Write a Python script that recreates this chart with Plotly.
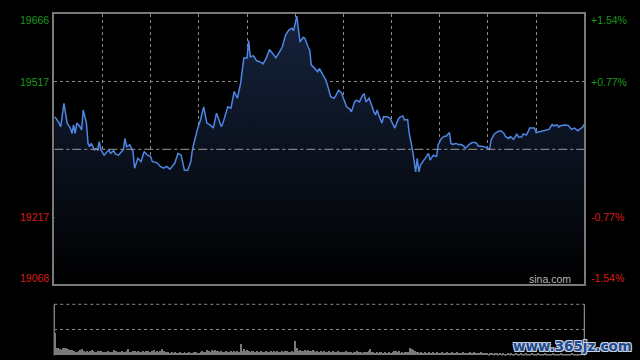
import plotly.graph_objects as go

# ---- data ----
minutes = [0, 1, 3, 4, 6, 8, 10, 11, 12, 13, 14, 16, 17, 18, 20, 21, 22, 23, 25, 26,
           27, 28, 29, 31, 33, 34, 35, 37, 38, 40, 41, 43, 44, 45, 47, 49, 50, 52, 54, 56,
           58, 60, 61, 64, 66, 68, 70, 72, 75, 77, 79, 81, 83, 85, 86, 89, 91, 93, 95, 97,
           99, 101, 104, 105, 108, 110, 112, 114, 116, 118, 120, 121, 122, 124, 126, 128, 130, 132, 134, 136,
           138, 140, 142, 144, 146, 148, 149, 151, 153, 155, 156, 158, 159, 160, 162, 164, 165, 167, 169, 171,
           172, 174, 175, 177, 179, 180, 182, 184, 185, 187, 188, 190, 192, 193, 194, 196, 197, 199, 200, 201,
           202, 204, 205, 207, 209, 210, 212, 214, 215, 217, 218, 220, 221, 223, 224, 225, 226, 227, 228, 230,
           232, 233, 234, 236, 238, 239, 241, 243, 244, 246, 247, 248, 250, 252, 253, 255, 256, 258, 260, 262,
           263, 264, 266, 268, 269, 271, 272, 274, 276, 278, 280, 281, 283, 284, 286, 287, 288, 289, 291, 292,
           294, 295, 296, 298, 299, 300, 302, 304, 307, 308, 310, 311, 313, 314, 315, 317, 318, 320, 321, 322,
           324, 326, 327, 329, 330]
index_values = [19439, 19436, 19425, 19417, 19469, 19425, 19414, 19402, 19421, 19402, 19425, 19417, 19410, 19454, 19425, 19380, 19373, 19380, 19366, 19369,
                19366, 19384, 19366, 19354, 19362, 19366, 19358, 19364, 19357, 19354, 19358, 19366, 19391, 19373, 19377, 19362, 19325, 19347, 19340, 19362,
                19354, 19351, 19340, 19337, 19329, 19325, 19329, 19323, 19336, 19358, 19354, 19321, 19320, 19340, 19366, 19410, 19432, 19461, 19425, 19421,
                19414, 19447, 19417, 19425, 19461, 19458, 19495, 19480, 19513, 19569, 19569, 19608, 19572, 19574, 19563, 19561, 19556, 19569, 19588, 19580,
                19570, 19581, 19594, 19620, 19631, 19635, 19630, 19662, 19605, 19615, 19613, 19594, 19587, 19554, 19546, 19539, 19546, 19532, 19521, 19498,
                19484, 19480, 19484, 19498, 19491, 19480, 19461, 19456, 19450, 19472, 19476, 19472, 19487, 19489, 19472, 19480, 19469, 19450, 19443, 19454,
                19443, 19425, 19439, 19439, 19436, 19428, 19414, 19432, 19438, 19441, 19432, 19433, 19402, 19366, 19343, 19317, 19347, 19317, 19332, 19343,
                19354, 19358, 19343, 19354, 19351, 19377, 19391, 19396, 19396, 19404, 19380, 19378, 19380, 19377, 19378, 19374, 19369, 19377, 19382, 19382,
                19380, 19374, 19374, 19373, 19371, 19367, 19388, 19401, 19406, 19408, 19402, 19395, 19391, 19395, 19389, 19395, 19401, 19394, 19394, 19401,
                19399, 19406, 19414, 19414, 19414, 19404, 19406, 19408, 19411, 19411, 19422, 19419, 19421, 19416, 19419, 19420, 19421, 19420, 19414, 19411,
                19414, 19408, 19411, 19416, 19423]

volume = [22, 7, 7, 6, 5, 7, 7, 7, 6, 5,
          5, 5, 4, 3, 3, 4, 5, 6, 4, 3,
          4, 3, 4, 5, 4, 3, 3, 4, 4, 4,
          3, 3, 3, 4, 3, 3, 3, 5, 4, 3,
          3, 3, 4, 3, 3, 4, 6, 3, 3, 4,
          4, 3, 4, 3, 3, 4, 3, 4, 4, 3,
          3, 4, 5, 3, 4, 3, 4, 6, 4, 3,
          3, 3, 2, 3, 2, 3, 2, 2, 3, 2,
          2, 3, 2, 2, 3, 2, 2, 3, 3, 2,
          2, 3, 4, 3, 3, 5, 4, 3, 5, 4,
          5, 4, 4, 3, 4, 3, 3, 4, 3, 3,
          4, 3, 4, 3, 4, 3, 11, 4, 6, 4,
          5, 4, 3, 4, 4, 3, 4, 3, 3, 4,
          3, 3, 4, 3, 3, 4, 3, 4, 3, 4,
          3, 3, 4, 3, 4, 4, 3, 3, 4, 3,
          14, 7, 4, 5, 4, 4, 5, 4, 5, 4,
          4, 5, 4, 3, 4, 3, 4, 3, 4, 3,
          3, 4, 3, 3, 4, 3, 3, 4, 3, 3,
          3, 3, 4, 3, 3, 3, 2, 3, 3, 4,
          3, 3, 2, 3, 3, 3, 4, 6, 3, 3,
          2, 3, 2, 3, 3, 2, 3, 2, 2, 3,
          2, 3, 4, 4, 3, 4, 2, 3, 2, 3,
          3, 3, 7, 6, 5, 4, 3, 3, 2, 3,
          2, 3, 2, 2, 3, 2, 3, 2, 2, 3,
          2, 2, 3, 2, 2, 3, 2, 2, 3, 2,
          2, 3, 2, 2, 2, 3, 2, 2, 2, 3,
          2, 2, 3, 2, 2, 2, 3, 2, 2, 2,
          2, 1, 2, 2, 1, 2, 2, 1, 2, 1,
          2, 1, 1, 2, 1, 2, 1, 1, 2, 1,
          1, 2, 1, 1, 2, 1, 1, 1, 2, 1,
          1, 1, 2, 1, 1, 1, 2, 1, 1, 1,
          1, 2, 1, 1, 1, 1, 2, 1, 1, 1,
          1, 1, 1, 2, 1, 1, 1, 1, 1, 2, 2]
volume_minutes = list(range(len(volume)))

prev_close = 19367
y_min, y_max = 19068, 19666
left_labels = ["19666", "19517", "19217", "19068"]
left_values = [19666, 19517, 19217, 19068]
right_labels = ["+1.54%", "+0.77%", "-0.77%", "-1.54%"]
label_colors = ["#1c9a1c", "#1c9a1c", "#dd1a1a", "#dd1a1a"]
session_minutes = 330
grid_minutes = list(range(30, 330, 30))

# ---- layout constants ----
W, H = 640, 360
xl, xr = 54.3 / W, 584.3 / W
main_bottom, main_top = 1 - 284.3 / H, 1 - 14.3 / H
vol_bottom, vol_top = 1 - 355.5 / H, 1 - 304.3 / H
grid_col = "#8c8c8c"
font = "Liberation Sans, Arial, sans-serif"

fig = go.Figure()

# baseline for the gradient fill
fig.add_trace(go.Scatter(x=[0, session_minutes], y=[y_min, y_min], mode="lines",
                         line=dict(width=0, color="rgba(0,0,0,0)"), showlegend=False,
                         hoverinfo="skip", xaxis="x", yaxis="y"))
fig.add_trace(go.Scatter(x=minutes, y=index_values, mode="lines",
                         line=dict(color="#4d86e4", width=1.5),
                         fill="tonexty",
                         fillgradient=dict(type="vertical",
                                           colorscale=[[0, "#000000"], [1, "#16233d"]]),
                         showlegend=False, xaxis="x", yaxis="y"))

fig.add_trace(go.Bar(x=volume_minutes, y=volume, width=0.62,
                     marker=dict(color="#7a7a7a", line=dict(width=0)),
                     showlegend=False, xaxis="x2", yaxis="y2"))

fig.update_layout(
    width=W, height=H, margin=dict(l=0, r=0, t=0, b=0),
    paper_bgcolor="#000000", plot_bgcolor="#000000",
    font=dict(family=font),
    bargap=0,
    xaxis=dict(domain=[xl, xr], range=[0, session_minutes], showticklabels=False,
               tickvals=grid_minutes, showgrid=True, gridcolor=grid_col, griddash="dot",
               gridwidth=1, zeroline=False, showline=True, linecolor="#7a7a7a",
               linewidth=1.5, mirror=True, ticks=""),
    yaxis=dict(domain=[main_bottom, main_top], range=[y_min, y_max], showticklabels=False,
               tickvals=[19217, 19517], showgrid=True, gridcolor=grid_col, griddash="dot",
               gridwidth=1, zeroline=False, showline=True, linecolor="#7a7a7a",
               linewidth=1.5, mirror=True, ticks=""),
    xaxis2=dict(domain=[xl, xr], range=[-0.5, session_minutes + 0.5], showticklabels=False,
                showgrid=False, zeroline=False, showline=False, anchor="y2"),
    yaxis2=dict(domain=[vol_bottom, vol_top], range=[0, 50], showticklabels=False,
                tickvals=[25], showgrid=True, gridcolor=grid_col, griddash="dot",
                zeroline=False, showline=False, anchor="x2"),
)

shapes = [
    dict(type="line", xref="x", yref="y", x0=0, x1=session_minutes, y0=prev_close, y1=prev_close,
         line=dict(color="#9a9a9a", width=1, dash="dashdot")),
    dict(type="line", xref="paper", yref="paper", x0=xl, x1=xr, y0=vol_top, y1=vol_top,
         line=dict(color=grid_col, width=1, dash="dot")),
    dict(type="line", xref="paper", yref="paper", x0=xl, x1=xl, y0=vol_bottom, y1=vol_top,
         line=dict(color="#7a7a7a", width=1.5)),
    dict(type="line", xref="paper", yref="paper", x0=xr, x1=xr, y0=vol_bottom, y1=vol_top,
         line=dict(color="#a8a8a8", width=1)),
]
fig.update_layout(shapes=shapes)

annotations = []
for i, (lab, val, rl, col) in enumerate(zip(left_labels, left_values, right_labels, label_colors)):
    shift = -6 if i == 0 else (6 if i == 3 else 0)
    annotations.append(dict(x=51 / W, xref="paper", y=val, yref="y", text=lab, showarrow=False,
                            xanchor="right", yanchor="middle", yshift=shift,
                            font=dict(size=10.5, color=col, family=font)))
    annotations.append(dict(x=589 / W, xref="paper", y=val, yref="y", text=rl, showarrow=False,
                            xanchor="left", yanchor="middle", yshift=shift,
                            font=dict(size=10.5, color=col, family=font)))
annotations.append(dict(x=573 / W, xref="paper", y=y_min, yref="y", yshift=5, text="sina.com",
                        showarrow=False, xanchor="right", yanchor="middle",
                        font=dict(size=10.5, color="#b4b4b4", family=font)))
annotations.append(dict(x=634 / W, xref="paper", y=1 - 345.5 / H, yref="paper", text="www.365jz.com",
                        showarrow=False, xanchor="right", yanchor="middle",
                        font=dict(size=13.5, color="#1d4a8e", family="DejaVu Sans, sans-serif",
                                  weight="bold",
                                  shadow="1px 1px 0 #c9d2e2, -1px -1px 0 #c9d2e2, 1px -1px 0 #c9d2e2, -1px 1px 0 #c9d2e2")))
fig.update_layout(annotations=annotations)

fig.write_html("out.html", config={"displayModeBar": False},
               post_script="document.body.style.margin='0';document.body.style.overflow='hidden';")
